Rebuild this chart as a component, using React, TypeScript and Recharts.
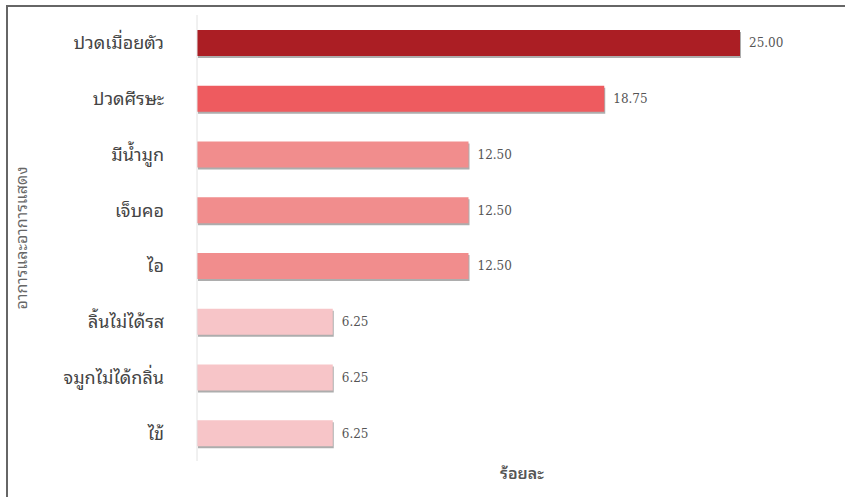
import { BarChart, Bar, XAxis, YAxis, Cell, LabelList, Label } from "recharts";

const symptoms = [
  "ปวดเมื่อยตัว",
  "ปวดศีรษะ",
  "มีน้ำมูก",
  "เจ็บคอ",
  "ไอ",
  "ลิ้นไม่ได้รส",
  "จมูกไม่ได้กลิ่น",
  "ไข้",
];

const percents = [25.0, 18.75, 12.5, 12.5, 12.5, 6.25, 6.25, 6.25];

const barColors = [
  "#AB1E24",
  "#EE5B5F",
  "#F18D8D",
  "#F18D8D",
  "#F18D8D",
  "#F7C5C8",
  "#F7C5C8",
  "#F7C5C8",
];

const data = symptoms.map((name, i) => ({ name, value: percents[i] }));

const thaiFont = "'Noto Sans Thai Looped', Loma, Garuda, 'Noto Sans Thai', 'Noto Sans', sans-serif";

function ShadowBar(props: any) {
  const { x, y, width, height, fill } = props;
  if (!width || width <= 0) return null;
  return (
    <g>
      <rect x={x + 1} y={y + 2} width={width} height={height} fill="#777" opacity={0.6} />
      <rect x={x} y={y} width={width} height={height} fill={fill} />
    </g>
  );
}

export default function App() {
  return (
    <div
      style={{
        position: "fixed",
        left: 0,
        top: 0,
        width: 845,
        height: 497,
        background: "#fff",
      }}
    >
      <div
        style={{
          position: "absolute",
          left: 6,
          top: 5,
          right: -10,
          bottom: -10,
          borderLeft: "2px solid #666",
          borderTop: "2px solid #666",
        }}
      />
      <div style={{ position: "absolute", left: 0, top: 0 }}>
        <BarChart
          width={845}
          height={497}
          data={data}
          layout="vertical"
          margin={{ top: 15, right: 105, bottom: 0, left: 0 }}
          barCategoryGap={15}
        >
          <XAxis
            type="number"
            domain={[0, 25]}
            axisLine={false}
            tickLine={false}
            tick={false}
            height={36}
          >
            <Label
              content={() => (
                <text
                  x={522}
                  y={479}
                  textAnchor="middle"
                  fontFamily={thaiFont}
                  fontSize={16}
                  fontWeight={600}
                  fill="#555"
                >
                  ร้อยละ
                </text>
              )}
            />
          </XAxis>
          <YAxis
            type="category"
            dataKey="name"
            width={197}
            axisLine={{ stroke: "#e2e2e2" }}
            tickLine={false}
            tickMargin={27}
            tick={{ fontFamily: thaiFont, fontSize: 18, fill: "#444" }}
          >
            <Label
              content={() => (
                <text
                  x={23}
                  y={238}
                  textAnchor="middle"
                  dominantBaseline="middle"
                  transform="rotate(-90 23 238)"
                  fontFamily={thaiFont}
                  fontSize={16}
                  fill="#666"
                >
                  อาการและอาการแสดง
                </text>
              )}
            />
          </YAxis>
          <Bar dataKey="value" isAnimationActive={false} shape={<ShadowBar />}>
            {data.map((d, i) => (
              <Cell key={d.name} fill={barColors[i]} />
            ))}
            <LabelList
              dataKey="value"
              position="right"
              offset={9}
              formatter={(v: any) => Number(v).toFixed(2)}
              style={{ fontFamily: "'DejaVu Serif', serif", fontSize: 12, fill: "#555" }}
            />
          </Bar>
        </BarChart>
      </div>
    </div>
  );
}
